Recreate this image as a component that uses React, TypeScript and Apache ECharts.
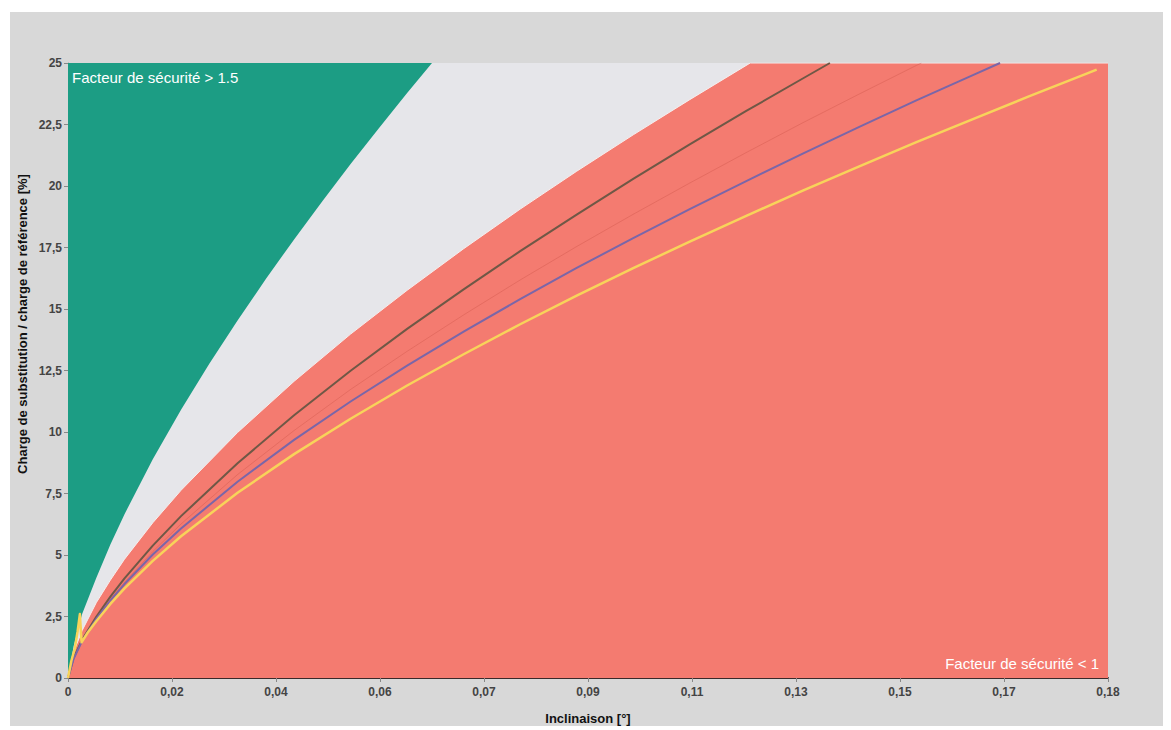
import React, { useEffect, useRef } from "react";
import * as echarts from "echarts";

// x: inclinaison [°], y: charge [%]
const greenBoundary: [number, number][] = [
  [0, 0], [0.001, 1.3], [0.0025, 2.6], [0.005, 4.07], [0.0075, 5.43], [0.01, 6.66],
  [0.015, 8.89], [0.02, 10.9], [0.025, 12.77], [0.03, 14.53], [0.035, 16.22],
  [0.04, 17.83], [0.045, 19.38], [0.05, 20.89], [0.055, 22.35], [0.06, 23.78], [0.0644, 25],
];
const redBoundary: [number, number][] = [
  [0, 0], [0.001, 1.06], [0.0025, 1.93], [0.005, 3.06], [0.0075, 3.98], [0.01, 4.83],
  [0.015, 6.31], [0.02, 7.63], [0.03, 9.98], [0.04, 12.06], [0.05, 13.98], [0.06, 15.76],
  [0.07, 17.45], [0.08, 19.06], [0.09, 20.6], [0.1, 22.08], [0.11, 23.51], [0.1207, 25],
  [0.184, 25],
];
const brownLine: [number, number][] = [
  [0, 0], [0.001, 0.83], [0.0025, 1.55], [0.005, 2.49], [0.0075, 3.31], [0.01, 4.05],
  [0.015, 5.38], [0.02, 6.58], [0.03, 8.73], [0.04, 10.68], [0.05, 12.49], [0.06, 14.19],
  [0.07, 15.8], [0.08, 17.35], [0.09, 18.84], [0.1, 20.29], [0.11, 21.69], [0.12, 23.05],
  [0.13, 24.37], [0.1348, 25],
];
const faintLine: [number, number][] = [
  [0, 0], [0.001, 0.8], [0.0025, 1.51], [0.005, 2.42], [0.0075, 3.2], [0.01, 3.89],
  [0.015, 5.14], [0.02, 6.26], [0.03, 8.27], [0.04, 10.06], [0.05, 11.73], [0.06, 13.28],
  [0.07, 14.76], [0.08, 16.18], [0.09, 17.54], [0.1, 18.85], [0.11, 20.12], [0.12, 21.36],
  [0.13, 22.57], [0.14, 23.74], [0.15, 24.89], [0.151, 25],
];
const purpleLine: [number, number][] = [
  [0, 0], [0.001, 0.78], [0.0025, 1.51], [0.005, 2.4], [0.0075, 3.15], [0.01, 3.82],
  [0.015, 5.02], [0.02, 6.08], [0.03, 7.98], [0.04, 9.68], [0.05, 11.24], [0.06, 12.7],
  [0.07, 14.08], [0.08, 15.4], [0.09, 16.67], [0.1, 17.88], [0.11, 19.06], [0.12, 20.2],
  [0.13, 21.32], [0.14, 22.4], [0.15, 23.47], [0.16, 24.5], [0.1649, 25],
];
const yellowLine: [number, number][] = [
  [0, 0], [0.0006, 0.7], [0.0012, 1.2], [0.0017, 1.9], [0.0021, 2.6], [0.0024, 1.45],
  [0.0035, 1.85], [0.005, 2.31], [0.0075, 3.01], [0.01, 3.64], [0.015, 4.76], [0.02, 5.76],
  [0.03, 7.53], [0.04, 9.1], [0.05, 10.54], [0.06, 11.89], [0.07, 13.16], [0.08, 14.38],
  [0.09, 15.54], [0.1, 16.66], [0.11, 17.74], [0.12, 18.79], [0.13, 19.81], [0.14, 20.8],
  [0.15, 21.77], [0.16, 22.71], [0.17, 23.64], [0.18, 24.55], [0.182, 24.73],
];

const xMin = 0;
const xMax = 0.184;
const xStep = 0.0184;
const yMin = 0;
const yMax = 25;
const yStep = 2.5;

const xTitle = "Inclinaison [°]";
const yTitle = "Charge de substitution / charge de référence [%]";
const topLabel = "Facteur de sécurité > 1.5";
const bottomLabel = "Facteur de sécurité < 1";

const FONT = "'Liberation Sans', Arial, sans-serif";

export default function App() {
  const ref = useRef<HTMLDivElement>(null);
  useEffect(() => {
    if (!ref.current) return;
    const chart = echarts.init(ref.current, undefined, { renderer: "svg" });
    const lineSeries = (data: [number, number][], color: string, width: number) => ({
      type: "line",
      data,
      showSymbol: false,
      symbol: "none",
      smooth: false,
      lineStyle: { color, width, join: "round" },
      z: 5,
    });
    chart.setOption({
      animation: false,
      backgroundColor: "#ffffff",
      textStyle: { fontFamily: FONT },
      graphic: [
        {
          type: "rect",
          z: -10,
          silent: true,
          shape: { x: 10, y: 12, width: 1153, height: 714 },
          style: { fill: "#d8d8d8" },
        },
        {
          type: "text",
          z: 100,
          left: 72,
          top: 70,
          style: { text: topLabel, fill: "#ffffff", font: `15px ${FONT}` },
        },
        {
          type: "text",
          z: 100,
          right: 72,
          top: 656,
          style: { text: bottomLabel, fill: "#ffffff", font: `15px ${FONT}` },
        },
        {
          type: "text",
          z: 100,
          x: 22,
          y: 324,
          rotation: Math.PI / 2,
          style: {
            text: yTitle,
            fill: "#111",
            font: `bold 13px ${FONT}`,
            align: "center",
            verticalAlign: "middle",
          },
        },
      ],
      grid: {
        left: 68,
        right: 63,
        top: 63,
        bottom: 50,
        show: true,
        backgroundColor: "#e6e6ea",
        borderWidth: 0,
      },
      xAxis: {
        type: "value",
        min: xMin,
        max: xMax,
        interval: xStep,
        name: xTitle,
        nameLocation: "middle",
        nameGap: 34,
        nameTextStyle: { fontWeight: "bold", fontSize: 13, color: "#111", fontFamily: FONT },
        axisLine: { show: true, lineStyle: { color: "#3a2a2a", width: 2 } },
        axisTick: { show: true, length: 4, lineStyle: { color: "#888" } },
        splitLine: { show: false },
        axisLabel: {
          color: "#444",
          fontSize: 12,
          fontWeight: "bold",
          margin: 8,
          formatter: (v: number) => (v === 0 ? "0" : v.toFixed(2).replace(".", ",")),
        },
      },
      yAxis: {
        type: "value",
        min: yMin,
        max: yMax,
        interval: yStep,
        axisLine: { show: true, lineStyle: { color: "#9a9a9a", width: 1 } },
        axisTick: { show: true, length: 4, lineStyle: { color: "#888" } },
        splitLine: { show: false },
        axisLabel: {
          color: "#444",
          fontSize: 12,
          fontWeight: "bold",
          margin: 6,
          formatter: (v: number) => String(v).replace(".", ","),
        },
      },
      series: [
        {
          type: "line",
          data: greenBoundary,
          showSymbol: false,
          symbol: "none",
          smooth: false,
          lineStyle: { width: 0, color: "#1c9d84" },
          areaStyle: { color: "#1c9d84", opacity: 1, origin: "end" },
          z: 2,
        },
        {
          type: "line",
          data: redBoundary,
          showSymbol: false,
          symbol: "none",
          smooth: false,
          lineStyle: { width: 1, color: "#f6eeee" },
          areaStyle: { color: "#f47b70", opacity: 1, origin: "start" },
          z: 3,
        },
        lineSeries(faintLine, "rgba(200,80,70,0.35)", 1),
        lineSeries(brownLine, "#6f5846", 2),
        lineSeries(purpleLine, "#7a66a8", 2),
        lineSeries(yellowLine, "#f8d35a", 2.5),
      ],
    });
    return () => chart.dispose();
  }, []);
  return (
    <div
      ref={ref}
      style={{ position: "absolute", left: 0, top: 0, width: 1171, height: 730 }}
    />
  );
}
